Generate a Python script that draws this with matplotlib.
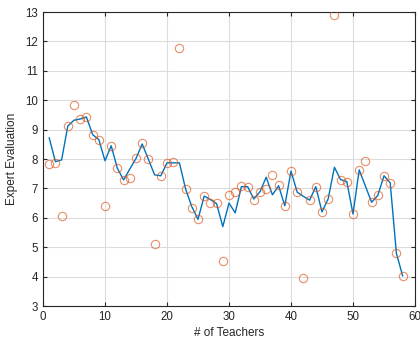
import matplotlib
matplotlib.use("Agg")
import matplotlib.pyplot as plt

teachers = list(range(1, 59))

predicted = [8.72, 7.91, 7.97, 9.12, 9.32, 9.36, 9.43, 8.83, 8.66, 7.94,
             8.45, 7.68, 7.29, 7.66, 8.02, 8.51, 7.99, 7.46, 7.43, 7.87,
             7.87, 7.87, 6.98, 6.38, 5.95, 6.74, 6.62, 6.48, 5.70, 6.50,
             6.17, 7.06, 7.06, 6.64, 6.89, 7.38, 6.78, 7.09, 6.41, 7.59,
             6.87, 6.73, 6.60, 7.06, 6.20, 6.65, 7.72, 7.30, 7.23, 6.13,
             7.63, 7.08, 6.53, 6.76, 7.43, 7.19, 4.79, 4.03]

expert = [7.83, 7.88, 6.05, 9.12, 9.85, 9.36, 9.43, 8.83, 8.66, 6.40,
          8.45, 7.68, 7.29, 7.34, 8.02, 8.55, 7.99, 5.12, 7.43, 7.87,
          7.89, 11.77, 6.98, 6.34, 5.95, 6.74, 6.49, 6.50, 4.54, 6.79,
          6.89, 7.08, 7.06, 6.61, 6.89, 6.99, 7.47, 7.12, 6.40, 7.58,
          6.87, 3.94, 6.60, 7.05, 6.20, 6.65, 12.89, 7.27, 7.23, 6.13,
          7.63, 7.93, 6.53, 6.76, 7.43, 7.19, 4.79, 4.03]

plt.rcParams['font.family'] = ['Liberation Sans', 'DejaVu Sans']

fig = plt.figure(figsize=(4.2, 3.41), dpi=100)
ax = fig.add_axes([0.1024, 0.1026, 0.8857, 0.8622])

ax.plot(teachers, predicted, color='#0072BD', linewidth=1.0, zorder=3)
ax.plot(teachers, expert, linestyle='none', marker='o', markersize=6,
        markerfacecolor='none', markeredgecolor='#D95319', markeredgewidth=0.8,
        alpha=0.65, zorder=4)

ax.set_xlim(0, 60)
ax.set_ylim(3, 13)
ax.set_xticks(range(0, 61, 10))
ax.set_yticks(range(3, 14))
ax.grid(True, color='#dcdcdc', linewidth=0.8)
ax.set_axisbelow(True)
ax.tick_params(direction='in', length=3, width=0.8, labelsize=8.3,
               colors='#262626', top=True, right=True)
for s in ax.spines.values():
    s.set_color('#262626')
    s.set_linewidth(0.8)

ax.set_xlabel('# of Teachers', fontsize=8.5, color='#262626', labelpad=3)
ax.set_ylabel('Expert Evaluation', fontsize=8.5, color='#262626', labelpad=5)

fig.savefig('out.png', dpi=100)
